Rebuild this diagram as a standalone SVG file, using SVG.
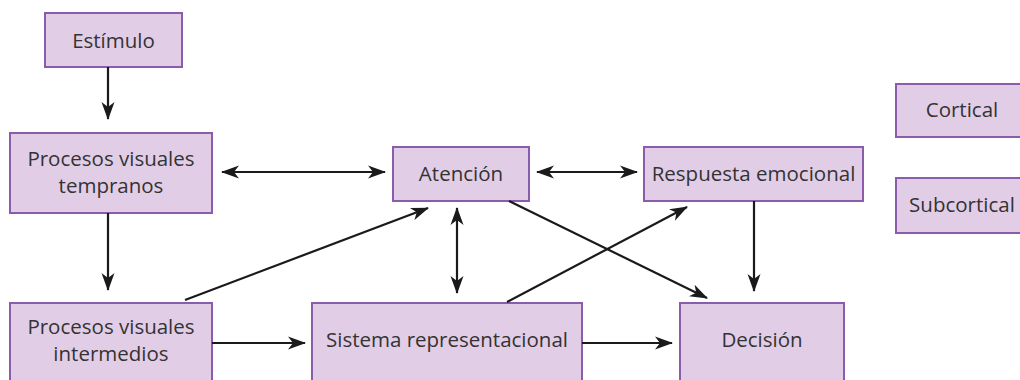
<svg xmlns="http://www.w3.org/2000/svg" width="1020" height="380" viewBox="0 0 1020 380">
<style>
.box{fill:#e2cde7;stroke:#8b5cab;stroke-width:2}
.t{font-family:"Open Sans","Noto Sans",sans-serif;font-size:20.5px;fill:#333;text-anchor:middle}
.c{stroke:#1a1a1a;stroke-width:2.2;fill:none}
</style>
<defs>
<marker id="ah" viewBox="0 0 18 14" refX="17" refY="7" markerWidth="18" markerHeight="14" markerUnits="userSpaceOnUse" orient="auto-start-reverse">
<path d="M0,0.5 L18,7 L0,13.5 L5,7 Z" fill="#1a1a1a"/>
</marker>
</defs>
<rect width="1020" height="380" fill="#fff"/>
<g id="estimulo"><rect class="box" x="45" y="13" width="137" height="54"/><text class="t" x="113.5" y="48">Estímulo</text></g>
<g id="pvt"><rect class="box" x="10" y="133" width="202" height="80"/><text class="t" x="111" y="166">Procesos visuales</text><text class="t" x="111" y="193">tempranos</text></g>
<g id="atencion"><rect class="box" x="393" y="147" width="136" height="54"/><text class="t" x="461" y="181">Atención</text></g>
<g id="respuesta"><rect class="box" x="644" y="147" width="219" height="54"/><text class="t" x="753.5" y="181">Respuesta emocional</text></g>
<g id="cortical"><rect class="box" x="896" y="84" width="140" height="53"/><text class="t" x="962" y="117">Cortical</text></g>
<g id="subcortical"><rect class="box" x="896" y="178" width="140" height="55"/><text class="t" x="962" y="212">Subcortical</text></g>
<g id="pvi"><rect class="box" x="10" y="303" width="202" height="90"/><text class="t" x="111" y="334">Procesos visuales</text><text class="t" x="111" y="361">intermedios</text></g>
<g id="sistema"><rect class="box" x="312" y="303" width="270" height="90"/><text class="t" x="447" y="347">Sistema representacional</text></g>
<g id="decision"><rect class="box" x="680" y="303" width="164" height="90"/><text class="t" x="762" y="347">Decisión</text></g>
<g id="connectors">
<line class="c" x1="108" y1="67" x2="108" y2="119" marker-end="url(#ah)"/>
<line class="c" x1="222" y1="172" x2="385" y2="172" marker-start="url(#ah)" marker-end="url(#ah)"/>
<line class="c" x1="537" y1="172" x2="637" y2="172" marker-start="url(#ah)" marker-end="url(#ah)"/>
<line class="c" x1="108" y1="213" x2="108" y2="290" marker-end="url(#ah)"/>
<line class="c" x1="185" y1="300" x2="428" y2="208" marker-end="url(#ah)"/>
<line class="c" x1="457" y1="208" x2="457" y2="293" marker-start="url(#ah)" marker-end="url(#ah)"/>
<line class="c" x1="509" y1="201" x2="707" y2="298" marker-end="url(#ah)"/>
<line class="c" x1="507" y1="302" x2="687" y2="207" marker-end="url(#ah)"/>
<line class="c" x1="754" y1="201" x2="754" y2="291" marker-end="url(#ah)"/>
<line class="c" x1="212" y1="343" x2="305" y2="343" marker-end="url(#ah)"/>
<line class="c" x1="582" y1="343" x2="672" y2="343" marker-end="url(#ah)"/>
</g>
</svg>
